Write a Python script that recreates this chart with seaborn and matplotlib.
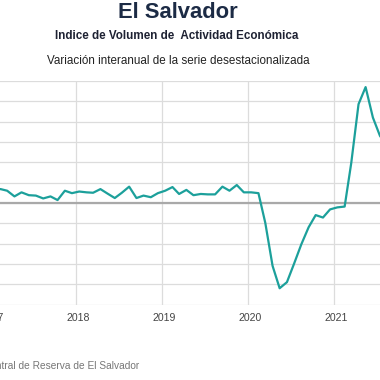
import matplotlib
matplotlib.use("Agg")
import matplotlib.pyplot as plt
import matplotlib.dates as mdates
import matplotlib.transforms as mtransforms
import pandas as pd
import seaborn as sns

# IVAE, variación interanual (%), serie desestacionalizada, Jan 2017 - Sep 2021
ivae = [
    3.3, 3.4, 3.0, 1.6, 2.6, 1.9, 1.8, 1.1, 1.6, 0.7, 3.0, 2.4,
    2.8, 2.6, 2.5, 3.4, 2.3, 1.2, 2.5, 4.0, 1.2, 1.8, 1.4, 2.4,
    3.0, 3.9, 2.2, 3.2, 1.9, 2.2, 2.1, 2.1, 4.0, 3.0, 4.4, 2.6,
    2.6, 2.4, -4.9, -15.5, -21.0, -19.5, -15.0, -10.2, -6.0, -3.0, -3.6, -1.6,
    -1.1, -0.9, 9.8, 24.3, 28.5, 21.0, 16.5, 14.0, 12.0,
]
year_ticks = ["2017", "2018", "2019", "2020", "2021", "2022"]
y_ticks = [-25, -20, -15, -10, -5, 0, 5, 10, 15, 20, 25, 30]

LINE_COLOR = "#1ca09b"
NAVY = "#1c2b45"


def main():
    dates = pd.date_range("2017-01-01", periods=len(ivae), freq="MS") + pd.Timedelta(days=14)
    df = pd.DataFrame({"fecha": dates, "variacion": ivae})

    sns.set_style("white")
    plt.rcParams["font.family"] = ["Liberation Sans", "DejaVu Sans"]

    fig = plt.figure(figsize=(3.8, 3.8), dpi=100)
    # plot area runs past both figure edges, as in the cropped original
    ax = fig.add_axes([-24.4 / 380, 1 - 304.5 / 380, 458.3 / 380, 223.5 / 380])

    sns.lineplot(data=df, x="fecha", y="variacion", ax=ax, color=LINE_COLOR, linewidth=1.6)
    ax.axhline(0, color="#a9a9a9", linewidth=1.6, zorder=1)

    ax.set_xlim(pd.Timestamp("2016-11-01"), pd.Timestamp("2022-03-01"))
    ax.set_ylim(y_ticks[0], y_ticks[-1])
    ax.set_yticks(y_ticks)
    ax.set_xticks([pd.Timestamp(f"{y}-01-01") for y in year_ticks])
    ax.xaxis.set_major_formatter(mdates.DateFormatter("%Y"))
    ax.grid(True, color="#dcdcdc", linewidth=0.9)
    ax.set_axisbelow(True)
    for side in ax.spines.values():
        side.set_visible(False)
    ax.tick_params(axis="x", length=0, pad=6, labelsize=7.6, labelcolor="#444444")
    ax.tick_params(axis="y", length=0, labelleft=False)
    ax.set_xlabel("")
    ax.set_ylabel("")
    # year labels sit a touch right of their gridline
    shift = mtransforms.ScaledTranslation(2.5 / 100, 0, fig.dpi_scale_trans)
    for lbl in ax.get_xticklabels():
        lbl.set_transform(lbl.get_transform() + shift)

    fig.text(178 / 380, 1 - 12 / 380, "El Salvador", ha="center", va="center",
             fontsize=15.8, fontweight="bold", color=NAVY)
    fig.text(177 / 380, 1 - 36 / 380, "Indice de Volumen de  Actividad Económica", ha="center",
             va="center", fontsize=8.4, fontweight="bold", color="#1e2233")
    fig.text(178 / 380, 1 - 61 / 380, "Variación interanual de la serie desestacionalizada",
             ha="center", va="center", fontsize=8.4, color="#222222")
    fig.text(139 / 380, 1 - 366 / 380, "Fuente: Banco Central de Reserva de El Salvador",
             ha="right", va="center", fontsize=7.3, color="#777777")

    fig.savefig("out.png", dpi=100)
    plt.close(fig)


if __name__ == "__main__":
    main()
